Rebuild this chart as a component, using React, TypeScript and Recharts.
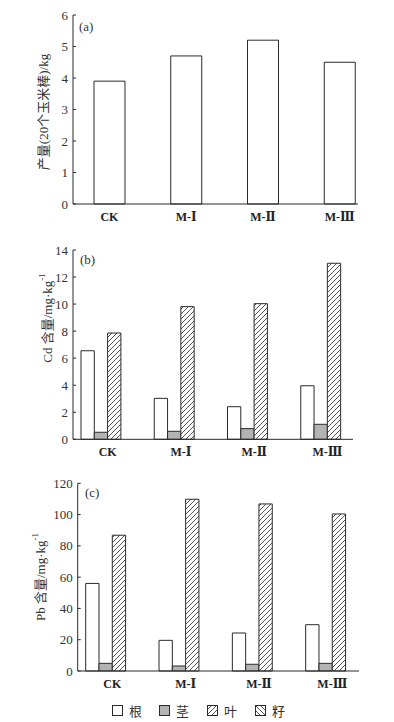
import { BarChart, Bar, XAxis, YAxis } from 'recharts'

const categories = ['CK', 'M-Ⅰ', 'M-Ⅱ', 'M-Ⅲ']
const yieldKg = [3.9, 4.7, 5.2, 4.5]

const cdRoot = [6.55, 3.03, 2.41, 3.96]
const cdStem = [0.52, 0.59, 0.79, 1.11]
const cdLeaf = [7.86, 9.81, 10.03, 13.02]
const cdSeed = [0, 0, 0, 0]

const pbRoot = [56, 19.6, 24.3, 29.6]
const pbStem = [4.9, 3.2, 4.3, 4.9]
const pbLeaf = [86.8, 109.8, 106.8, 100.4]
const pbSeed = [0, 0, 0, 0]

const yieldTicks = [0, 1, 2, 3, 4, 5, 6]
const cdTicks = [0, 2, 4, 6, 8, 10, 12, 14]
const pbTicks = [0, 20, 40, 60, 80, 100, 120]

const legendItems = ['根', '茎', '叶', '籽']

const yieldData = categories.map((name, i) => ({ name, value: yieldKg[i] }))
const cdData = categories.map((name, i) => ({
  name, root: cdRoot[i], stem: cdStem[i], leaf: cdLeaf[i], seed: cdSeed[i],
}))
const pbData = categories.map((name, i) => ({
  name, root: pbRoot[i], stem: pbStem[i], leaf: pbLeaf[i], seed: pbSeed[i],
}))

const INK = '#2a2a2a'
const SERIF = '"Liberation Serif", "DejaVu Serif", "Noto Sans CJK SC", serif'
const CJK = '"Liberation Serif", "Noto Sans CJK SC", sans-serif'
const yTick = { fontSize: 13, fill: '#333', fontFamily: SERIF }
const xTick = { fontSize: 12, fill: '#222', fontFamily: SERIF, fontWeight: 'bold' }

function Hatch({ id, back }: { id: string; back?: boolean }) {
  return (
    <defs>
      <pattern id={id} patternUnits="userSpaceOnUse" width="5" height="5">
        <rect width="5" height="5" fill="#fff" />
        {back ? (
          <path d="M0,0 L5,5 M-1,4 L1,6 M4,-1 L6,1" stroke={INK} strokeWidth="0.8" />
        ) : (
          <path d="M0,5 L5,0 M-1,1 L1,-1 M4,6 L6,4" stroke={INK} strokeWidth="0.8" />
        )}
      </pattern>
    </defs>
  )
}

function VLabel({ x, y, children }: { x: number; y: number; children: React.ReactNode }) {
  return (
    <text
      x={x}
      y={y}
      transform={`rotate(-90 ${x} ${y})`}
      textAnchor="middle"
      dominantBaseline="central"
      fontSize={13}
      fill="#333"
      fontFamily={CJK}
    >
      {children}
    </text>
  )
}

function Tag({ x, y, t }: { x: number; y: number; t: string }) {
  return (
    <text x={x} y={y} dominantBaseline="central" fontSize={13} fill="#333" fontFamily={SERIF}>
      {t}
    </text>
  )
}

export default function App() {
  return (
    <div style={{ position: 'absolute', left: 0, top: 0, width: 394, height: 722, background: '#fff' }}>
      <div style={{ position: 'absolute', left: 0, top: 0 }}>
        <BarChart width={394} height={230} data={yieldData} margin={{ top: 15, right: 36, bottom: 6, left: 0 }}>
          <XAxis
            dataKey="name"
            height={20}
            padding={{ left: -2, right: -20 }}
            tickLine={false}
            stroke={INK}
            tick={xTick}
          />
          <YAxis
            width={73}
            domain={[0, 6]}
            ticks={yieldTicks}
            tickSize={-3}
            tickMargin={8}
            stroke={INK}
            tick={yTick}
          />
          <Bar dataKey="value" barSize={31} fill="#fff" stroke={INK} strokeWidth={1} isAnimationActive={false} />
          <Tag x={79} y={26} t="(a)" />
          <VLabel x={43} y={112}>产量(20个玉米棒)/kg</VLabel>
        </BarChart>
      </div>

      <div style={{ position: 'absolute', left: 0, top: 230 }}>
        <BarChart
          width={394}
          height={230}
          data={cdData}
          barGap={0}
          margin={{ top: 20, right: 41, bottom: 0.7, left: 0 }}
        >
          <Hatch id="hatchB" />
          <XAxis
            dataKey="name"
            height={20}
            padding={{ left: -2, right: -11 }}
            tickLine={false}
            stroke={INK}
            tick={xTick}
          />
          <YAxis
            width={73}
            domain={[0, 14]}
            ticks={cdTicks}
            tickSize={-3}
            tickMargin={8}
            stroke={INK}
            tick={yTick}
          />
          <Bar dataKey="root" barSize={13.3} fill="#fff" stroke={INK} isAnimationActive={false} />
          <Bar dataKey="stem" barSize={13.3} fill="#b3b3b3" stroke={INK} isAnimationActive={false} />
          <Bar dataKey="leaf" barSize={13.3} fill="url(#hatchB)" stroke={INK} isAnimationActive={false} />
          <Bar dataKey="seed" barSize={13.3} fill="#fff" stroke={INK} isAnimationActive={false} />
          <Tag x={80} y={29} t="(b)" />
          <VLabel x={47} y={88}>
            Cd 含量/mg·kg<tspan dy={-5} fontSize={9}>-1</tspan>
          </VLabel>
        </BarChart>
      </div>

      <div style={{ position: 'absolute', left: 0, top: 470 }}>
        <BarChart
          width={394}
          height={252}
          data={pbData}
          barGap={0}
          margin={{ top: 13.3, right: 35, bottom: 31, left: 0 }}
        >
          <Hatch id="hatchC" />
          <XAxis
            dataKey="name"
            height={20}
            padding={{ left: -2, right: -10 }}
            tickLine={false}
            stroke={INK}
            tick={xTick}
          />
          <YAxis
            width={77.7}
            domain={[0, 120]}
            ticks={pbTicks}
            tickSize={-3}
            tickMargin={8}
            stroke={INK}
            tick={yTick}
          />
          <Bar dataKey="root" barSize={13.3} fill="#fff" stroke={INK} isAnimationActive={false} />
          <Bar dataKey="stem" barSize={13.3} fill="#b3b3b3" stroke={INK} isAnimationActive={false} />
          <Bar dataKey="leaf" barSize={13.3} fill="url(#hatchC)" stroke={INK} isAnimationActive={false} />
          <Bar dataKey="seed" barSize={13.3} fill="#fff" stroke={INK} isAnimationActive={false} />
          <Tag x={85} y={22} t="(c)" />
          <VLabel x={40} y={107}>
            Pb 含量/mg·kg<tspan dy={-5} fontSize={9}>-1</tspan>
          </VLabel>
        </BarChart>
      </div>

      <div style={{ position: 'absolute', left: 0, top: 700, width: 394, height: 22 }}>
        {legendItems.map((t, i) => {
          const xs = [112, 159, 207, 255]
          const fills = ['#fff', '#b3b3b3', 'url(#legLeaf)', 'url(#legSeed)']
          return (
            <div key={t} style={{ position: 'absolute', left: xs[i], top: 5, display: 'flex', alignItems: 'center' }}>
              <svg width={11} height={11}>
                <Hatch id="legLeaf" />
                <Hatch id="legSeed" back />
                <rect x={0.5} y={0.5} width={10} height={10} fill={fills[i]} stroke={INK} />
              </svg>
              <span
                style={{
                  marginLeft: 6,
                  fontSize: 13,
                  lineHeight: '11px',
                  color: '#333',
                  fontFamily: '"Noto Sans CJK SC", sans-serif',
                }}
              >
                {t}
              </span>
            </div>
          )
        })}
      </div>
    </div>
  )
}
